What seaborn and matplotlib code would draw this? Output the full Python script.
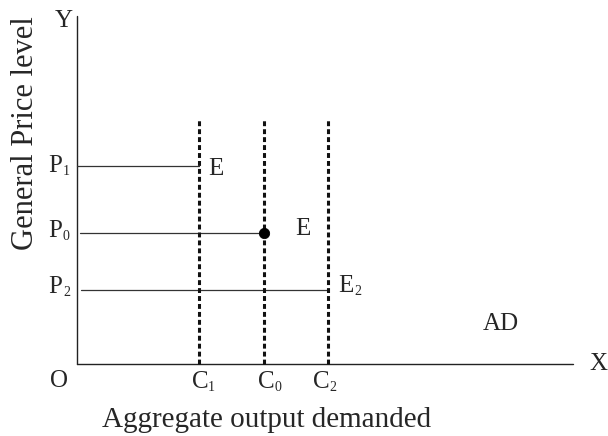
import matplotlib
matplotlib.use("Agg")
import matplotlib.pyplot as plt
import seaborn as sns

# ---- data (units: axis length = 100) ----
c_letters = ["C", "C", "C"]
c_subs = ["1", "0", "2"]
c_values = [24.6, 37.7, 50.6]          # vertical (dashed) AD lines
p_letters = ["P", "P", "P"]
p_subs = ["1", "0", "2"]
p_values = [56.9, 37.6, 21.4]          # price levels
e_letters = ["E", "E", "E"]
e_subs = ["", "", "2"]
dash_top = 70.7
axis_max = [100, 100]
eq_point = (37.7, 37.6)

sns.set_theme(style="white")
plt.rcParams["font.family"] = ["Liberation Serif", "DejaVu Serif"]

fig = plt.figure(figsize=(6.08, 4.36), dpi=100)
ax = fig.add_axes([0, 0, 1, 1])
ax.set_xlim(-15.52, 107.06)
ax.set_ylim(-20.69, 104.6)
ax.axis("off")

PX = 4.96   # px per x unit
PY = 3.48   # px per y unit

# axes
sns.lineplot(x=[0, 0], y=[0, axis_max[1]], ax=ax, color="#222222", lw=1.0,
             estimator=None, sort=False)
sns.lineplot(x=[0, axis_max[0]], y=[0, 0], ax=ax, color="#222222", lw=1.0,
             estimator=None, sort=False)

# horizontal price lines to each vertical line
h_start = [0, 0.6, 0.8]
for c, p, s in zip(c_values, p_values, h_start):
    sns.lineplot(x=[s, c], y=[p, p], ax=ax, color="#333333", lw=0.9,
                 estimator=None, sort=False)

# dashed vertical lines
for c in c_values:
    sns.lineplot(x=[c, c], y=[0, dash_top], ax=ax, color="#111111", lw=2.2,
                 estimator=None, sort=False, linestyle=(0, (1.6, 1.0)))

# equilibrium dot
sns.scatterplot(x=[eq_point[0]], y=[eq_point[1]], ax=ax, color="black",
                s=55, edgecolor="black", marker="o", zorder=5)

fs = 18
sub_fs = 10


def label(x, y, letter, sub, letter_w_px):
    ax.text(x, y, letter, fontsize=fs, ha="left", va="baseline")
    if sub:
        ax.text(x + letter_w_px / PX, y - 3 / PY, sub, fontsize=sub_fs,
                ha="left", va="baseline")


# P labels
p_text_y = [55.2, 36.5, 20.4]
for let, sub, y in zip(p_letters, p_subs, p_text_y):
    label(-5.85, y, let, sub, 15)

# E labels
e_pos = [(26.4, 54.3), (44.0, 37.1), (52.6, 20.7)]
for let, sub, (x, y) in zip(e_letters, e_subs, e_pos):
    label(x, y, let, sub, 16)

# C labels
c_text_x = [23.2, 36.5, 47.6]
for let, sub, x in zip(c_letters, c_subs, c_text_x):
    label(x, -6.9, let, sub, 16)

ax.text(81.9, 9.8, "AD", fontsize=fs, ha="left", va="baseline")
ax.text(-5.4, -6.6, "O", fontsize=fs, ha="left", va="baseline")
ax.text(103.3, -1.7, "X", fontsize=fs, ha="left", va="baseline")
ax.text(-4.4, 96.8, "Y", fontsize=fs, ha="left", va="baseline")

ax.text(5.0, -18.1, "Aggregate output demanded", fontsize=21,
        ha="left", va="baseline")
ax.text(-10.3, 66.4, "General Price level", fontsize=22, rotation=90,
        ha="center", va="center")

fig.savefig("out.png", dpi=100)
